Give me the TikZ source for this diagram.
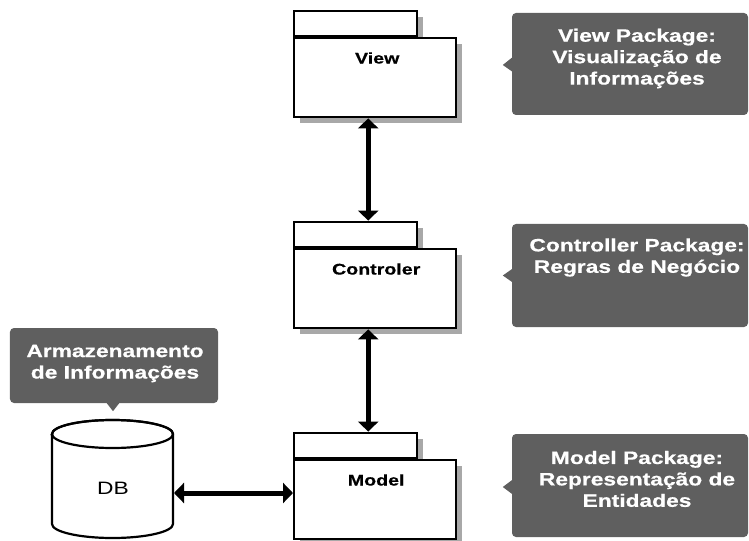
\documentclass[tikz,border=0pt]{standalone}
\usepackage{fontspec}
\setmainfont{Liberation Sans}[FakeStretch=1.27, BoldFeatures={FakeBold=0.6}]
\usetikzlibrary{arrows.meta,shadows,calc}
\definecolor{calloutgray}{HTML}{5F5F5F}
\definecolor{shadowgray}{HTML}{A8A8A8}
\begin{document}
\begin{tikzpicture}[x=1bp,y=-1bp,
  pkgshadow/.style={drop shadow={shadow xshift=6bp, shadow yshift=-6bp, fill=shadowgray, opacity=1}},
  pkgtab/.style={draw, line width=2.4bp, fill=white, minimum width=123bp, minimum height=25bp, inner sep=0pt, anchor=south west, pkgshadow},
  pkgbody/.style={draw, line width=2.4bp, fill=white, minimum width=162bp, minimum height=79bp, inner sep=0pt, anchor=north west, pkgshadow},
  pkglabel/.style={font=\bfseries\fontsize{15.5}{18}\selectfont, inner sep=0pt},
  biarrow/.style={line width=5bp, {Triangle[width=20bp,length=10bp]}-{Triangle[width=20bp,length=10bp]}},
  calloutbox/.style={fill=calloutgray, rounded corners=4bp, inner sep=0pt},
  callouttext/.style={text=white, font=\bfseries\fontsize{18}{21.5}\selectfont, align=center, inner sep=0pt},
  cyl/.style={line width=2.2bp}
]
\useasboundingbox (0,0) rectangle (749,541);

% View package
\node[pkgtab] (vtab) at (293,37) {};
\node[pkgbody] (view) at (293,37) {};
\node[pkglabel] (viewlbl) at ($(view.north)+(2,21)$) {View};

% Controller package
\node[pkgtab] (ctab) at (293,248) {};
\node[pkgbody] (ctrl) at (293,248) {};
\node[pkglabel] (ctrllbl) at ($(ctrl.north)+(1,21)$) {Controler};

% Model package
\node[pkgtab] (mtab) at (293,459) {};
\node[pkgbody] (model) at (293,459) {};
\node[pkglabel] (modellbl) at ($(model.north)+(1,21)$) {Model};

% arrows between packages
\draw[biarrow] ([xshift=-7bp]view.south) -- ([xshift=-7bp]view.south |- ctab.north);
\draw[biarrow] ([xshift=-7bp]ctrl.south) -- ([xshift=-7bp]ctrl.south |- mtab.north);

% DB cylinder
\filldraw[cyl, fill=white] (52,434) -- (52,524)
  arc[start angle=180, end angle=360, x radius=60.5bp, y radius=14bp]
  -- (173,434)
  arc[start angle=0, end angle=180, x radius=60.5bp, y radius=14bp] -- cycle;
\draw[cyl] (112.5,434) ellipse[x radius=60.5bp, y radius=14bp];
\node[font=\fontsize{18}{20}\selectfont, inner sep=0pt] (db) at (113,488) {DB};
\coordinate (dbright) at (174,493);
\draw[biarrow] (dbright) -- (dbright -| model.west);

% Callouts
\node[calloutbox, minimum width=236bp, minimum height=102bp] (viewbox) at (630,64) {};
\fill[calloutgray] ($(viewbox.west)+(1,-7)$) -- ($(viewbox.west)+(-9,1)$) -- ($(viewbox.west)+(1,8)$) -- cycle;
\node[callouttext] (viewtxt) at (637,58.5) {View Package:\\Visualização de\\Informações};

\node[calloutbox, minimum width=236bp, minimum height=103bp] (ctrlbox) at (630,275.5) {};
\fill[calloutgray] ($(ctrlbox.west)+(1,-7)$) -- ($(ctrlbox.west)+(-9,0)$) -- ($(ctrlbox.west)+(1,7)$) -- cycle;
\node[callouttext] (ctrltxt) at (637,257.5) {Controller Package:\\Regras de Negócio};

\node[calloutbox, minimum width=236bp, minimum height=103bp] (modelbox) at (630,485.5) {};
\fill[calloutgray] ($(modelbox.west)+(1,-6)$) -- ($(modelbox.west)+(-9,1.5)$) -- ($(modelbox.west)+(1,9)$) -- cycle;
\node[callouttext] (modeltxt) at (637,479) {Model Package:\\Representação de\\Entidades};

\node[calloutbox, minimum width=208bp, minimum height=75bp] (storebox) at (114,365.5) {};
\fill[calloutgray] ($(storebox.south)+(-8,-1)$) -- ($(storebox.south)+(-1,8)$) -- ($(storebox.south)+(6,-1)$) -- cycle;
\node[callouttext] (storetxt) at (115,363.5) {Armazenamento\\de Informações};
\end{tikzpicture}
\end{document}
